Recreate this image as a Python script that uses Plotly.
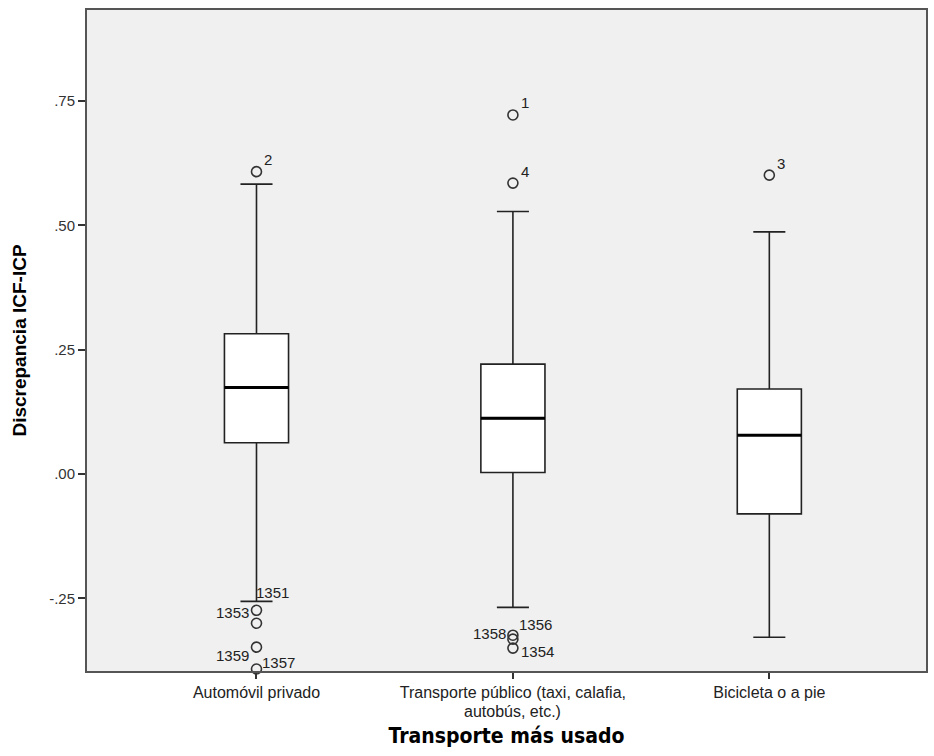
import plotly.graph_objects as go

# Category labels and box statistics for "Discrepancia ICF-ICP"
categories = ["Automóvil privado",
              "Transporte público (taxi, calafia,<br>autobús, etc.)",
              "Bicicleta o a pie"]
q1 = [0.063, 0.003, -0.080]
median = [0.174, 0.112, 0.078]
q3 = [0.282, 0.221, 0.171]
lower_whisker = [-0.256, -0.268, -0.328]
upper_whisker = [0.583, 0.528, 0.487]

# Outlying cases per group (value, case label)
outlier_vals = [
    [0.608, -0.274, -0.300, -0.348, -0.392],
    [0.722, 0.585, -0.324, -0.332, -0.350],
    [0.601],
]
outlier_labels = [
    ["2", "1353", "", "1359", "1357"],
    ["1", "4", "1358", "1356", "1354"],
    ["3"],
]
# extra label sharing a point with case 1353
extra_label = ("1351", 0, -0.274)

y_tickvals = [-0.25, 0.0, 0.25, 0.50, 0.75]
y_ticktext = ["-.25", ".00", ".25", ".50", ".75"]

box_width = 0.25
font = "Liberation Sans, Arial, sans-serif"
ink = "#222222"

fig = go.Figure()

for i, cat in enumerate(categories):
    fig.add_trace(go.Box(
        x=[i], q1=[q1[i]], median=[median[i]], q3=[q3[i]],
        lowerfence=[lower_whisker[i]], upperfence=[upper_whisker[i]],
        width=box_width, whiskerwidth=0.5,
        fillcolor="white", line=dict(color=ink, width=1.6),
        boxpoints=False, showlegend=False, hoverinfo="skip",
    ))
    # thicker median bar
    fig.add_trace(go.Scatter(
        x=[i - box_width / 2, i + box_width / 2], y=[median[i], median[i]],
        mode="lines", line=dict(color="black", width=3),
        showlegend=False, hoverinfo="skip",
    ))
    fig.add_trace(go.Scatter(
        x=[i] * len(outlier_vals[i]), y=outlier_vals[i], mode="markers",
        marker=dict(symbol="circle-open", size=10, color="#333333",
                    line=dict(width=1.6)),
        showlegend=False, hoverinfo="skip", cliponaxis=False,
    ))

label_font = dict(family=font, size=15, color="#222222")

def add_label(text, xi, yv, xanchor, xshift, yshift):
    if text:
        fig.add_annotation(x=xi, y=yv, text=text, showarrow=False,
                           xanchor=xanchor, yanchor="middle",
                           xshift=xshift, yshift=yshift, font=label_font)

# placement offsets for each case label (pixels)
placements = [
    [("left", 6, 12), ("right", -5, -2), None, ("right", -5, -8), ("left", 4, 7)],
    [("left", 6, 12), ("left", 6, 12), ("right", -5, 2), ("left", 4, 15), ("left", 6, -3)],
    [("left", 6, 12)],
]
for i in range(len(categories)):
    for v, lab, pl in zip(outlier_vals[i], outlier_labels[i], placements[i]):
        if pl:
            add_label(lab, i, v, *pl)
add_label(extra_label[0], extra_label[1], extra_label[2], "left", -2, 18)

# Category names: first line as tick text, wrapped remainder set just below
# with tighter line spacing
tick_font = dict(family=font, size=16, color="#222222")
first_lines = [c.split("<br>")[0] for c in categories]
for i, c in enumerate(categories):
    rest = c.split("<br>")[1:]
    if rest:
        fig.add_annotation(x=i, xref="x", y=0, yref="paper", text="<br>".join(rest),
                           showarrow=False, xanchor="center", yanchor="top",
                           yshift=-30, font=tick_font)

fig.update_layout(
    width=934, height=756,
    margin=dict(l=87, r=6, t=10, b=85),
    paper_bgcolor="white", plot_bgcolor="#f0f0f0",
    font=dict(family=font, size=15, color="#222222"),
    xaxis=dict(
        range=[-0.661, 2.611], tickmode="array",
        tickvals=list(range(len(categories))), ticktext=first_lines,
        ticks="outside", ticklen=6, tickwidth=1.5, tickcolor="#333333",
        showline=True, mirror=True, linecolor="#555555", linewidth=2,
        showgrid=False, zeroline=False,
        tickfont=tick_font,
        title=dict(text="<b>Transporte más usado</b>",
                   font=dict(family="DejaVu Sans Condensed, DejaVu Sans, sans-serif",
                             size=21, color="black"),
                   standoff=28),
    ),
    yaxis=dict(
        range=[-0.396, 0.933], tickmode="array",
        tickvals=y_tickvals, ticktext=y_ticktext,
        ticks="outside", ticklen=7, tickwidth=1.5, tickcolor="#333333",
        showline=True, mirror=True, linecolor="#555555", linewidth=2,
        showgrid=False, zeroline=False,
        tickfont=dict(family=font, size=15, color="#333333"),
        title=dict(text="<b>Discrepancia ICF-ICP</b>",
                   font=dict(family=font, size=19, color="black"),
                   standoff=17),
    ),
)

fig.write_html("out.html")
